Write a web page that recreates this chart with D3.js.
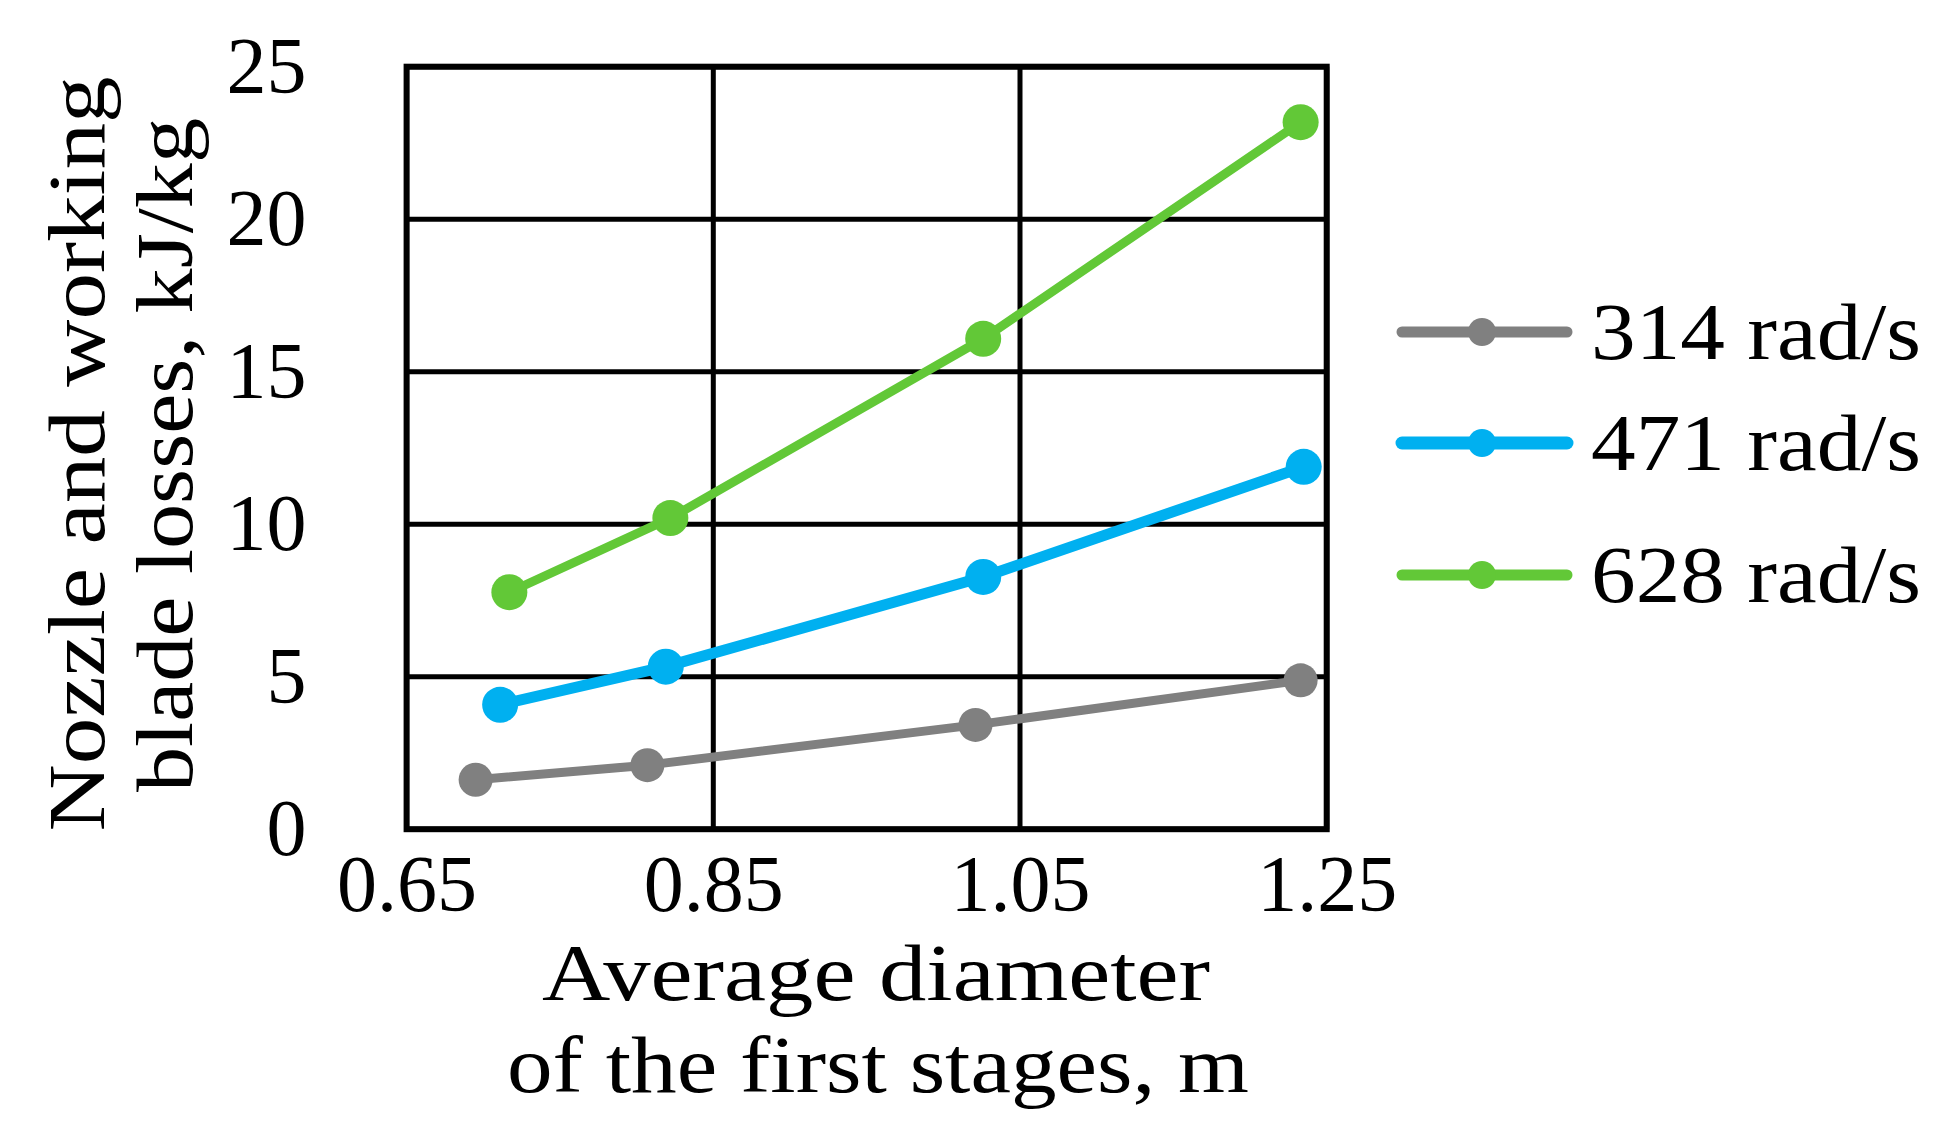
<!DOCTYPE html>
<html>
<head>
<meta charset="utf-8">
<script src="https://cdn.jsdelivr.net/npm/d3@7"></script>
<style>
  html, body { margin: 0; padding: 0; background: #ffffff; }
  svg { display: block; }
  text { font-family: "Liberation Serif", "Times New Roman", serif; fill: #000; }
</style>
</head>
<body>
<script>
// ---------- data ----------
const seriesNames = ["314 rad/s", "471 rad/s", "628 rad/s"];
const diam314 = [0.695, 0.807, 1.021, 1.233];
const loss314 = [1.62, 2.10, 3.42, 4.88];
const diam471 = [0.711, 0.819, 1.026, 1.235];
const loss471 = [4.08, 5.33, 8.27, 11.88];
const diam628 = [0.717, 0.822, 1.026, 1.233];
const loss628 = [7.77, 10.20, 16.08, 23.18];
const xTicks = [0.65, 0.85, 1.05, 1.25];
const yTicks = [0, 5, 10, 15, 20, 25];
const xTitle = ["Average diameter", "of the first stages, m"];
const yTitle = ["Nozzle and working", "blade losses, kJ/kg"];

// ---------- styling / layout ----------
const W = 1941, H = 1144;
const plot = { left: 406.6, right: 1326.7, top: 66.7, bottom: 829.2 };
const colors = ["#808080", "#00b0f0", "#62c837"];
const lineW = [9, 11, 9];
const markR = [17, 18, 18];
const FS = 80;

const series = [
  { name: seriesNames[0], pts: diam314.map((d, i) => [d, loss314[i]]) },
  { name: seriesNames[1], pts: diam471.map((d, i) => [d, loss471[i]]) },
  { name: seriesNames[2], pts: diam628.map((d, i) => [d, loss628[i]]) }
];

const svg = d3.select("body").append("svg").attr("width", W).attr("height", H);

const x = d3.scaleLinear().domain([0.65, 1.25]).range([plot.left, plot.right]);
const y = d3.scaleLinear().domain([0, 25]).range([plot.bottom, plot.top]);

// gridlines
const grid = svg.append("g");
grid.selectAll("line.h").data(yTicks).join("line")
  .attr("x1", plot.left).attr("x2", plot.right)
  .attr("y1", d => y(d)).attr("y2", d => y(d))
  .attr("stroke", "#000").attr("stroke-width", 5);
grid.selectAll("line.v").data(xTicks).join("line")
  .attr("y1", plot.top).attr("y2", plot.bottom)
  .attr("x1", d => x(d)).attr("x2", d => x(d))
  .attr("stroke", "#000").attr("stroke-width", 5);
svg.append("rect")
  .attr("x", plot.left).attr("y", plot.top)
  .attr("width", plot.right - plot.left).attr("height", plot.bottom - plot.top)
  .attr("fill", "none").attr("stroke", "#000").attr("stroke-width", 6);

// axes (labels only)
const xAxis = svg.append("g").attr("transform", `translate(0,${plot.bottom})`)
  .call(d3.axisBottom(x).tickValues(xTicks).tickSize(0).tickPadding(25).tickFormat(d3.format(".2f")));
const yAxis = svg.append("g").attr("transform", `translate(${plot.left},0)`)
  .call(d3.axisLeft(y).tickValues(yTicks).tickSize(0).tickPadding(100).tickFormat(d3.format("d")));
[xAxis, yAxis].forEach(a => {
  a.select(".domain").remove();
  a.selectAll("text").attr("font-size", FS).attr("font-family", "Liberation Serif").attr("fill", "#000");
});

// series lines + markers
const line = d3.line().x(d => x(d[0])).y(d => y(d[1]));
series.forEach((s, i) => {
  const g = svg.append("g");
  g.append("path").datum(s.pts).attr("d", line)
    .attr("fill", "none").attr("stroke", colors[i]).attr("stroke-width", lineW[i])
    .attr("stroke-linejoin", "round").attr("stroke-linecap", "round");
  g.selectAll("circle").data(s.pts).join("circle")
    .attr("cx", d => x(d[0])).attr("cy", d => y(d[1])).attr("r", markR[i])
    .attr("fill", colors[i]);
});

// axis titles
const xt = svg.append("g").attr("font-size", FS);
xt.append("text").attr("x", 876).attr("y", 1000).attr("text-anchor", "middle")
  .attr("textLength", 668).attr("lengthAdjust", "spacingAndGlyphs").text(xTitle[0]);
xt.append("text").attr("x", 878).attr("y", 1092).attr("text-anchor", "middle")
  .attr("textLength", 742).attr("lengthAdjust", "spacingAndGlyphs").text(xTitle[1]);

const yt = svg.append("g").attr("font-size", FS);
yt.append("text").attr("transform", "translate(104,454) rotate(-90)").attr("text-anchor", "middle")
  .attr("textLength", 755).attr("lengthAdjust", "spacingAndGlyphs").text(yTitle[0]);
yt.append("text").attr("transform", "translate(192,455) rotate(-90)").attr("text-anchor", "middle")
  .attr("textLength", 674).attr("lengthAdjust", "spacingAndGlyphs").text(yTitle[1]);

// legend
const legY = [332, 443, 575];
const leg = svg.append("g");
series.forEach((s, i) => {
  const g = leg.append("g").attr("transform", `translate(0,${legY[i]})`);
  g.append("line").attr("x1", 1402).attr("x2", 1567).attr("y1", 0).attr("y2", 0)
    .attr("stroke", colors[i]).attr("stroke-width", i === 1 ? 13 : 11).attr("stroke-linecap", "round");
  g.append("circle").attr("cx", 1482).attr("cy", 0).attr("r", 14).attr("fill", colors[i]);
  g.append("text").attr("x", 1591).attr("y", 27).attr("font-size", FS)
    .attr("textLength", 330).attr("lengthAdjust", "spacingAndGlyphs").text(s.name);
});
</script>
</body>
</html>
